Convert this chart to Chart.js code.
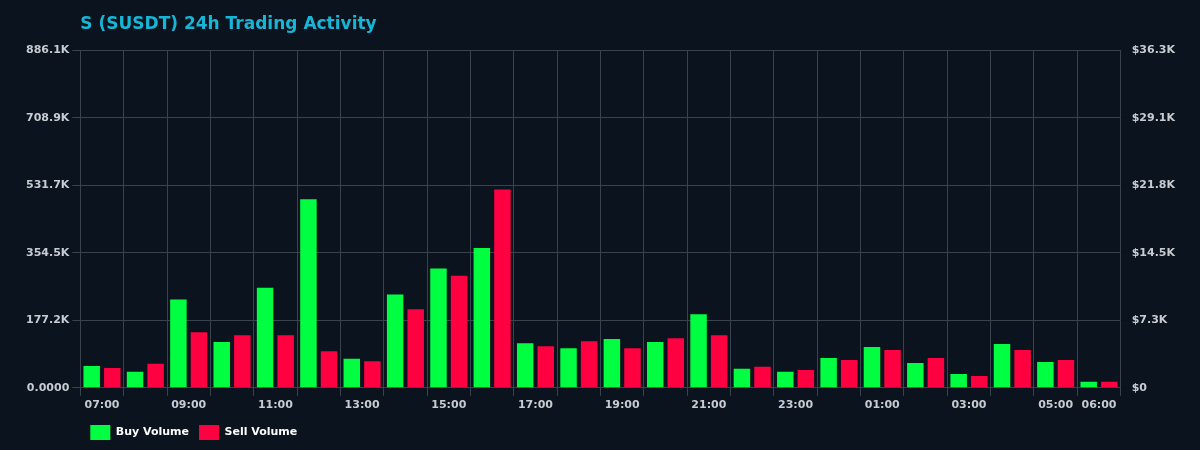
<!DOCTYPE html>
<html>
<head>
<meta charset="utf-8">
<script src="https://cdn.jsdelivr.net/npm/chart.js@4/dist/chart.umd.min.js"></script>
<style>
  html, body { margin: 0; padding: 0; background: #0b141e; }
  #wrap { width: 1200px; height: 450px; }
</style>
</head>
<body>
<div id="wrap"><canvas id="c"></canvas></div>
<script>
// hourly buckets
const hours = ['07:00','08:00','09:00','10:00','11:00','12:00','13:00','14:00','15:00','16:00','17:00','18:00',
  '19:00','20:00','21:00','22:00','23:00','00:00','01:00','02:00','03:00','04:00','05:00','06:00'];
// volumes in K
const buyVolume = [57, 42, 232, 120, 263, 495, 76, 245, 313, 367, 117, 104, 128, 120, 193, 50, 42, 78, 107, 65, 36, 115, 68, 16];
const sellVolume = [52, 63, 146, 138, 138, 96, 70, 206, 294, 521, 109, 122, 104, 130, 138, 55, 47, 73, 99, 78, 31, 99, 73, 16];
const leftTicks = ['0.0000', '177.2K', '354.5K', '531.7K', '708.9K', '886.1K'];
const rightTicks = ['$0', '$7.3K', '$14.5K', '$21.8K', '$29.1K', '$36.3K'];

const tickFont = { family: 'DejaVu Sans', size: 11, weight: 'bold' };
const tickColor = '#c8ccd2';
const gridColor = '#3a434d';

new Chart(document.getElementById('c'), {
  type: 'bar',
  data: {
    labels: hours,
    datasets: [
      { label: 'Buy Volume', data: buyVolume.map(v => v * 1000), backgroundColor: '#00ff41', yAxisID: 'y',
        categoryPercentage: 0.95, barPercentage: 0.8 },
      { label: 'Sell Volume', data: sellVolume.map(v => v * 1000), backgroundColor: '#ff0040', yAxisID: 'y',
        categoryPercentage: 0.95, barPercentage: 0.8 }
    ]
  },
  options: {
    responsive: true,
    maintainAspectRatio: false,
    animation: false,
    layout: { padding: { left: 23, right: 22, top: 6, bottom: 0 } },
    plugins: {
      title: {
        display: true, fullSize: false, text: 'S (SUSDT) 24h Trading Activity', align: 'start', color: '#17b5d6',
        font: { family: 'DejaVu Sans', size: 17, weight: 'bold' }, padding: { top: 8, bottom: 16 }
      },
      legend: {
        position: 'bottom', align: 'start', fullSize: false,
        labels: { color: '#ffffff', boxWidth: 20, boxHeight: 15, font: { family: 'DejaVu Sans', size: 11, weight: 'bold' }, padding: 10 }
      },
      tooltip: { enabled: false }
    },
    scales: {
      x: {
        grid: { color: gridColor, offset: true },
        border: { color: gridColor },
        ticks: {
          color: tickColor, font: tickFont, autoSkip: false, maxRotation: 0,
          callback: function (v, i) { return (i % 2 === 0 || i === hours.length - 1) ? hours[i] : ''; }
        }
      },
      y: {
        position: 'left', min: 0, max: 886100,
        afterBuildTicks: s => { s.ticks = leftTicks.map((t, i) => ({ value: i * 886100 / 5 })); },
        grid: { color: gridColor },
        border: { color: gridColor },
        ticks: { color: tickColor, font: tickFont, callback: (v, i) => leftTicks[i] }
      },
      y1: {
        position: 'right', min: 0, max: 36300,
        afterBuildTicks: s => { s.ticks = rightTicks.map((t, i) => ({ value: i * 36300 / 5 })); },
        grid: { drawOnChartArea: false },
        border: { color: gridColor },
        ticks: { color: tickColor, font: tickFont, callback: (v, i) => rightTicks[i] }
      }
    }
  }
});
</script>
</body>
</html>
